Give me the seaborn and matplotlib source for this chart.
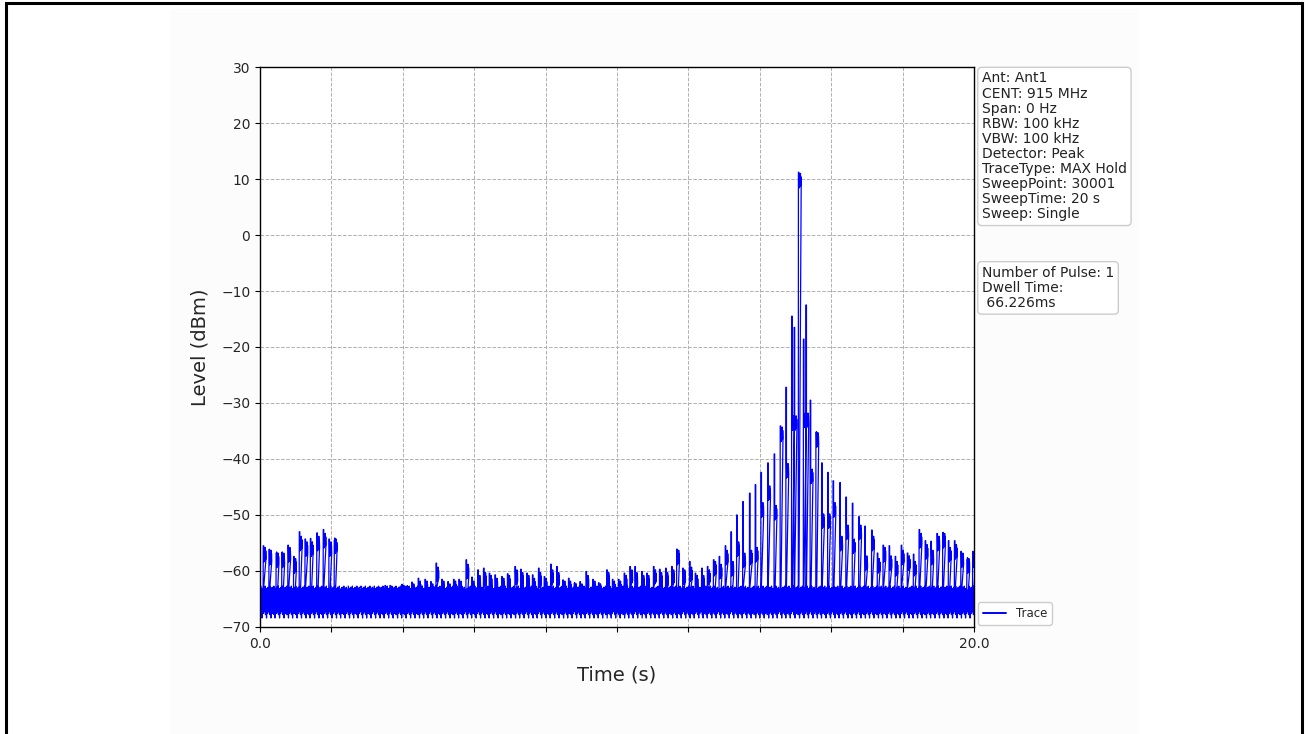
import numpy as np
import matplotlib
matplotlib.use("Agg")
import matplotlib.pyplot as plt
import seaborn as sns
from matplotlib.patches import Rectangle

# ------------------------------------------------------------
# data (time in s, level in dBm)
# ------------------------------------------------------------
pulse_time = [
    0.09, 0.25, 0.45, 0.61, 0.78, 0.94, 1.10, 1.26, 1.41, 1.59, 1.77, 1.93, 2.08,
    2.27, 2.46, 2.63, 2.83, 2.99, 3.15, 3.33, 3.50, 3.64, 3.83,
    3.97, 4.11, 4.25, 4.43, 4.62, 4.78, 4.93, 5.09, 5.26, 5.42,
    5.57, 5.77, 5.93, 6.10, 6.26, 6.42, 6.58, 6.77, 6.93, 7.14,
    7.30, 7.47, 7.63, 7.80, 7.96, 8.14, 8.31, 8.48, 8.64, 8.80,
    8.96, 9.13, 9.32, 9.48, 9.71, 9.87, 10.04, 10.20, 10.36, 10.50,
    10.69, 10.83, 11.02, 11.19, 11.36, 11.53, 11.67, 11.84, 12.03, 12.19,
    12.37, 12.53, 12.70, 12.86, 13.03, 13.19, 13.35, 13.52, 13.71, 13.87,
    14.03, 14.22, 14.40, 14.57, 14.73, 14.89, 14.96, 15.08, 15.22, 15.29,
    15.41, 15.57, 15.73, 15.90, 16.05, 16.24, 16.41, 16.59, 16.77, 16.94,
    17.13, 17.29, 17.45, 17.62, 17.79, 17.96, 18.13, 18.30, 18.46, 18.63,
    18.79, 18.96, 19.12, 19.28, 19.45, 19.63, 19.80, 19.96,
]
pulse_peak = [
    -55.5, -56.2, -56.8, -56.7, -55.4, -57.4, -53.0, -54.3, -54.2, -53.2, -52.6, -54.3, -54.5,
    -63.7, -63.5, -63.2, -62.9, -63.5, -63.2, -62.9, -62.6, -62.6, -63.2,
    -62.4, -62.8, -62.0, -61.3, -61.5, -61.9, -58.6, -61.5, -61.9, -61.5,
    -61.5, -58.0, -61.1, -59.8, -59.5, -60.4, -60.7, -61.0, -60.5, -59.2,
    -59.7, -60.4, -60.7, -59.5, -61.0, -58.8, -59.2, -61.6, -61.3, -62.2,
    -61.9, -60.1, -61.5, -62.1, -59.8, -61.5, -61.5, -60.4, -59.2, -59.2,
    -60.1, -60.4, -59.2, -59.7, -59.5, -59.2, -56.1, -59.5, -58.3, -60.4,
    -59.5, -59.2, -58.0, -57.4, -55.5, -53.0, -50.0, -47.6, -46.1, -44.6,
    -42.4, -40.7, -39.1, -34.1, -27.2, -14.5, -16.5, 11.2, -18.6, -12.5,
    -29.5, -35.3, -40.7, -42.4, -43.9, -44.2, -46.8, -47.9, -50.3, -52.0,
    -52.7, -56.8, -55.4, -55.5, -57.4, -55.4, -56.8, -57.0, -52.6, -54.6,
    -54.7, -53.3, -53.2, -54.6, -54.6, -56.5, -58.0, -56.5,
]
pulse_body = [
    -57.0, -57.5, -58.0, -58.0, -57.0, -59.0, -55.0, -56.0, -56.0, -55.0, -54.5, -56.0, -55.5,
    -64.5, -64.5, -64.5, -64.5, -64.5, -64.5, -64.5, -64.0, -64.0, -64.5,
    -63.8, -64.0, -63.5, -63.0, -63.0, -63.5, -60.5, -63.0, -63.5, -63.0,
    -63.0, -60.0, -63.0, -62.0, -61.5, -62.0, -62.5, -62.5, -62.0, -61.0,
    -61.5, -62.0, -62.5, -61.5, -62.5, -61.0, -61.5, -63.0, -63.0, -63.5,
    -63.5, -62.0, -63.0, -63.5, -61.5, -63.0, -63.0, -62.0, -61.0, -61.5,
    -62.0, -62.0, -61.0, -61.5, -61.5, -61.0, -57.5, -61.0, -60.5, -62.0,
    -62.0, -61.0, -59.5, -60.0, -57.5, -59.5, -56.0, -58.0, -57.5, -57.0,
    -49.0, -46.0, -49.5, -35.5, -42.0, -33.5, -33.5, 9.8, -33.0, -33.0,
    -43.0, -36.5, -51.0, -51.0, -49.0, -55.0, -53.0, -55.5, -53.0, -58.5,
    -55.0, -59.0, -57.0, -58.5, -59.5, -57.5, -58.5, -59.5, -54.5, -56.5,
    -57.5, -55.0, -54.5, -57.0, -56.5, -58.0, -59.0, -58.0,
]
# noise floor levels seen between pulses (cycled)
floor_levels = [-63.4, -67.3, -64.1, -66.2, -62.7, -67.8, -64.6, -65.9, -63.2, -66.9,
                -64.3, -68.4, -63.6, -66.6, -63.1, -67.0, -64.8, -67.6, -62.9, -66.4,
                -63.9, -67.2, -64.4]
body_ripple = [1.4, -1.4, 1.1, -1.2, 0.8, -0.9, 1.2, -1.0, 0.6, -0.7]

y_ticks = [-70, -60, -50, -40, -30, -20, -10, 0, 10, 20, 30]
x_ticks = [0, 2, 4, 6, 8, 10, 12, 14, 16, 18, 20]
x_ticklabels = ["0.0", "", "", "", "", "", "", "", "", "", "20.0"]

info_text = ("Ant: Ant1\nCENT: 915 MHz\nSpan: 0 Hz\nRBW: 100 kHz\nVBW: 100 kHz\n"
             "Detector: Peak\nTraceType: MAX Hold\nSweepPoint: 30001\n"
             "SweepTime: 20 s\nSweep: Single")
pulse_text = "Number of Pulse: 1\nDwell Time:\n 66.226ms"

# ------------------------------------------------------------
# assemble the trace from pulses + floor
# ------------------------------------------------------------
FLOOR_STEP = 0.005
t_pts, y_pts = [], []
k = 0
t = 0.0
for tp, pk, bd in zip(pulse_time + [20.0], pulse_peak + [None], pulse_body + [None]):
    while t < tp:
        t_pts.append(t)
        y_pts.append(floor_levels[k % len(floor_levels)])
        k += 1
        t += FLOOR_STEP
    if pk is None:
        break
    t_pts += [tp, tp + 0.015]
    y_pts += [pk, pk]
    for j, r in enumerate(body_ripple):
        t_pts.append(tp + 0.015 + 0.007 * j)
        y_pts.append(bd + r)
    # the floor keeps running underneath the pulse
    t = tp + 0.012

sns.set_style("ticks")
plt.rcParams['font.family'] = ['DejaVu Sans']

fig = plt.figure(figsize=(13.08, 7.34), dpi=100, facecolor='white')
fig.patches.append(Rectangle((0.130, -0.01), 0.740, 0.998, transform=fig.transFigure,
                             facecolor='#fcfcfc', edgecolor='none', zorder=-5))
fig.patches.append(Rectangle((0.0046, -0.02), 0.9908, 1.0158, transform=fig.transFigure,
                             facecolor='none', edgecolor='black', linewidth=2.2, zorder=-4))

ax = fig.add_axes([0.1988, 0.1458, 0.5459, 0.7629])
ax.set_facecolor('white')

sns.lineplot(x=t_pts, y=y_pts, ax=ax, color='blue', linewidth=0.9,
             estimator=None, sort=False, label='Trace')

ax.set_xlim(0, 20)
ax.set_ylim(-70, 30)
ax.set_yticks(y_ticks)
ax.set_xticks(x_ticks)
ax.set_xticklabels(x_ticklabels)
ax.tick_params(labelsize=10, direction='out', length=3.5, color='black')
ax.grid(True, linestyle='--', linewidth=0.7, color='#b0b0b0')
for s in ax.spines.values():
    s.set_color('black')
    s.set_linewidth(1.0)

ax.set_xlabel("Time (s)", fontsize=14, labelpad=11)
ax.set_ylabel("Level (dBm)", fontsize=14, labelpad=8)

box = dict(boxstyle='round,pad=0.3', facecolor='white', edgecolor='#cccccc')
ax.text(1.011, 0.992, info_text, transform=ax.transAxes, va='top', ha='left',
        fontsize=10, linespacing=1.1, bbox=box, color='#222222')
ax.text(1.011, 0.645, pulse_text, transform=ax.transAxes, va='top', ha='left',
        fontsize=10, linespacing=1.1, bbox=box, color='#222222')

leg = ax.legend(loc='lower left', bbox_to_anchor=(1.002, 0.0), fontsize=8.5,
                borderaxespad=0.2, framealpha=1.0)
for h in leg.get_lines():
    h.set_linewidth(1.4)

fig.savefig("out.png", dpi=100, facecolor='white')
